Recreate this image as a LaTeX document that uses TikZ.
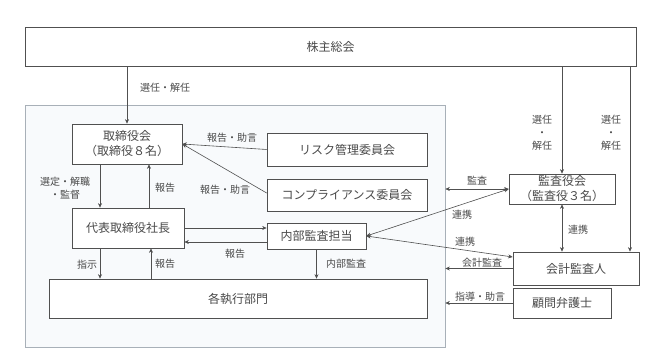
\documentclass[tikz,border=0pt]{standalone}
\usepackage{fontspec}
\newfontfamily\jp{Noto Sans CJK JP}
\usetikzlibrary{arrows.meta,calc}
\definecolor{txt}{HTML}{4A4A4A}
\definecolor{ln}{HTML}{505050}
\definecolor{contfill}{HTML}{F8FAFC}
\definecolor{contdraw}{HTML}{A8B0B8}
\begin{document}
\begin{tikzpicture}[x=1pt,y=-1pt,
  box/.style={draw=ln,line width=0.7pt,fill=white,text=txt,font=\jp\fontsize{12}{15}\selectfont,align=center,inner sep=0pt},
  lab/.style={text=txt,font=\jp\fontsize{10}{13}\selectfont,align=center,inner sep=0pt},
  arr/.style={draw=ln,line width=0.6pt,-{Stealth[length=4.5pt,width=4pt]}},
  darr/.style={draw=ln,line width=0.6pt,{Stealth[length=4.5pt,width=4pt]}-{Stealth[length=4.5pt,width=4pt]}}]
\useasboundingbox (0,0) rectangle (645,363);
\fill[white] (0,0) rectangle (645,363);
% container
\node[draw=contdraw,fill=contfill,line width=0.7pt,minimum width=420pt,minimum height=242pt,inner sep=0pt] (cont) at (235,226) {};
% boxes
\node[box,minimum width=611pt,minimum height=39pt] (sh) at (330.5,46.5) {株主総会};
\node[box,minimum width=110pt,minimum height=40pt] (tori) at (127,144) {取締役会\\（取締役８名）};
\node[box,minimum width=160pt,minimum height=33pt] (risk) at (347,149.5) {リスク管理委員会};
\node[box,minimum width=160pt,minimum height=32pt] (comp) at (347,195) {コンプライアンス委員会};
\node[box,minimum width=112pt,minimum height=40pt] (dai) at (128,228) {代表取締役社長};
\node[box,minimum width=99pt,minimum height=26pt] (naibu) at (316.5,236) {内部監査担当};
\node[box,minimum width=378pt,minimum height=39pt] (kaku) at (238,298.5) {各執行部門};
\node[box,minimum width=106pt,minimum height=30pt] (kansa) at (562,189) {監査役会\\（監査役３名）};
\node[box,minimum width=126pt,minimum height=33pt] (kaikei) at (576,268.5) {会計監査人};
\node[box,minimum width=98pt,minimum height=30pt] (komon) at (562,303) {顧問弁護士};
% connectors
\draw[arr] (sh.south -| tori.north) -- (tori.north);
\draw[arr] (sh.south -| kansa.north) -- (kansa.north);
\draw[arr] (sh.south -| 630,0) -- (kaikei.north -| 630,0);
\draw[arr] (tori.south -| 100,0) -- (dai.north -| 100,0);
\draw[arr] (dai.north -| 149,0) -- (tori.south -| 149,0);
\draw[arr] (risk.west) -- (tori.east);
\draw[arr] (comp.west |- 0,193) -- (tori.east);
\draw[arr] (dai.east) -- (dai.east -| naibu.west);
\draw[arr] (naibu.west |- 0,242) -- (dai.east |- 0,242);
\draw[arr] (dai.south -| 100,0) -- (kaku.north -| 100,0);
\draw[arr] (kaku.north -| 151,0) -- (dai.south -| 151,0);
\draw[arr] (naibu.south) -- (kaku.north -| naibu.south);
\draw[darr] (kansa.west -| cont.east) -- (kansa.west);
\draw[darr] (naibu.east) -- (kansa.west);
\draw[darr] (naibu.east) -- (kaikei.west |- 0,257);
\draw[darr] (kansa.south) -- (kaikei.north -| kansa.south);
\draw[arr] (kaikei.west) -- (kaikei.west -| cont.east);
\draw[arr] (komon.west) -- (komon.west -| cont.east);
% labels
\node[lab] (l1) at (165,88) {選任・解任};
\node[lab] (l2) at (542,133) {選任\\・\\解任};
\node[lab] (l3) at (611,133) {選任\\・\\解任};
\node[lab] (l4) at (65,188) {選定・解職\\・監督};
\node[lab] (l5) at (165,188) {報告};
\node[lab] (l6) at (232,138) {報告・助言};
\node[lab] (l7) at (225,190) {報告・助言};
\node[lab] (l8) at (235,254) {報告};
\node[lab] (l9) at (87,265) {指示};
\node[lab] (l10) at (165,264) {報告};
\node[lab] (l11) at (346,264) {内部監査};
\node[lab] (l12) at (477,181) {監査};
\node[lab] (l13) at (462,215) {連携};
\node[lab] (l14) at (465,242) {連携};
\node[lab] (l15) at (578,230) {連携};
\node[lab] (l16) at (482,263) {会計監査};
\node[lab] (l17) at (480,297) {指導・助言};
\end{tikzpicture}
\end{document}
